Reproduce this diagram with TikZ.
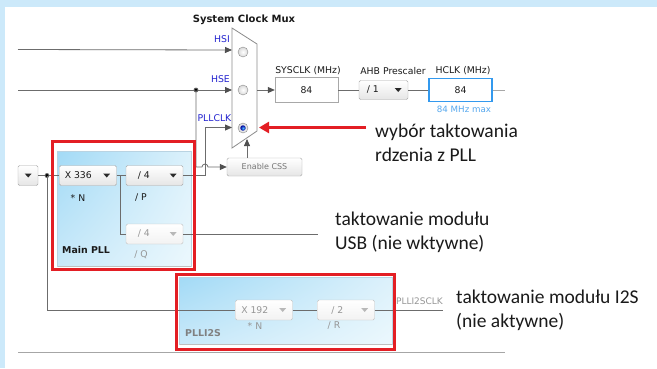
\documentclass[tikz,border=0pt]{standalone}
\usepackage{fontspec}
\setmainfont{DejaVu Sans}
\newfontfamily\notefont{Carlito}
\usetikzlibrary{arrows.meta,calc,shadings}

\definecolor{frameblue}{HTML}{CCE9FA}
\definecolor{wire}{HTML}{6C6C6C}
\definecolor{tipgray}{HTML}{505050}
\definecolor{uitext}{HTML}{1A1A1A}
\definecolor{dimtext}{HTML}{969696}
\definecolor{csstext}{HTML}{767676}
\definecolor{srcblue}{HTML}{2424D0}
\definecolor{hclkblue}{HTML}{3399EE}
\definecolor{maxblue}{HTML}{55A8EE}
\definecolor{markred}{HTML}{E31E24}
\definecolor{boxedge}{HTML}{A8A8A8}
\definecolor{muxedge}{HTML}{8C8C8C}
\definecolor{notetext}{HTML}{1A1A1A}
\definecolor{tri}{HTML}{2A2A2A}
\definecolor{tridim}{HTML}{B8B8B8}
\definecolor{pllA}{HTML}{A2DAF6}
\definecolor{pllB}{HTML}{DCF1FB}
\definecolor{pllC}{HTML}{C9E9F9}
\definecolor{pllD}{HTML}{ECF8FD}
\definecolor{panelEdge}{HTML}{B9D3E2}

\newcommand\uifont{\fontsize{9.3}{11}\selectfont}

% drop-down selector: [extra options]{name}{centre}{text}{text offset}{text colour}{arrow colour}
\newcommand\dropbox[7][]{%
  \node[dd,#1] (#2) at (#3) {};
  \node[font=\uifont, text=#6, inner sep=0pt] (#2-txt) at ($(#2.west)+(#5,0)$) {#4};
  \fill[#7] ($(#2.east)+(-13.5,-2)$) -- ++(7,0) -- ++(-3.5,4) -- cycle;
}

\tikzset{
  wire/.style={draw=wire, line width=0.8pt},
  feed/.style={wire, -{Triangle[length=7pt,width=6pt,color=tipgray]}},
  dd/.style={draw=boxedge, rounded corners=1.5pt, top color=white, bottom color=black!10,
             minimum width=57pt, minimum height=20pt, inner sep=0pt},
  dddim/.style={draw=boxedge!70, top color=white, bottom color=black!5},
  valbox/.style={draw=boxedge, fill=white, minimum width=63pt, minimum height=25pt,
                 inner sep=0pt, font=\uifont, text=uitext},
  uilabel/.style={font=\uifont, text=uitext, inner sep=0pt},
  dimlabel/.style={font=\uifont, text=dimtext, inner sep=0pt},
  srclabel/.style={font=\uifont, text=srcblue, inner sep=0pt, anchor=east},
  note/.style={font=\notefont\fontsize{19.5}{23}\selectfont, text=notetext, inner sep=0pt, anchor=base west},
  redframe/.style={draw=markred, line width=3pt},
  radio/.style={circle, draw=muxedge, inner sep=0pt, minimum size=10pt, inner color=white, outer color=black!15},
}

\begin{document}
\begin{tikzpicture}[x=1pt,y=-1pt]
\useasboundingbox (0,0) rectangle (657,368);
\fill[frameblue] (0,0) rectangle (657,368);
\fill[white] (5,7) rectangle (657,368);

% ---------- system clock multiplexer ----------
\node[font=\bfseries\fontsize{10}{11}\selectfont, text=uitext] (muxtitle) at (244,20) {System Clock Mux};
\draw[draw=muxedge, fill=white, line width=0.8pt] (232,28) -- (257,44) -- (257,131) -- (232,148) -- cycle;
\coordinate (mux-hsi) at (232,50);
\coordinate (mux-hse) at (232,90);
\coordinate (mux-pll) at (232,127.5);
\coordinate (mux-out) at (257,90);
\coordinate (mux-css) at (247,139);

\node[radio] (r-hsi) at (243,52) {};
\node[radio] (r-hse) at (243,90) {};
\node[radio] (r-pll) at (243,128) {};
\node[circle, inner sep=0pt, minimum size=5.5pt, inner color=cyan!60!blue!70, outer color=blue!60!black] (r-pll-dot) at (r-pll) {};

\node[srclabel] (l-hsi) at (230,39.5) {HSI};
\node[srclabel] (l-hse) at (230,79.5) {HSE};
\node[srclabel] (l-pll) at (231.5,118.5) {PLLCLK};

% clock source inputs
\coordinate (hsi-src) at (18,49.5);
\coordinate (hse-src) at (18,90);
\coordinate (hsedot) at (196,90);
\draw[feed] (hsi-src) -- (mux-hsi);
\draw[feed] (hse-src) -- (mux-hse);
\fill[wire] (hsedot) circle (2pt);

% clock security system
\node[dd, minimum width=75pt, minimum height=18pt, font=\fontsize{8}{9}\selectfont, text=csstext] (css) at (264.5,167) {Enable CSS};
\draw[feed] (hsedot) -- (196,167) -- (202,167) arc[start angle=180, end angle=360, radius=3] -- (css.west);
\draw[feed] (css.north -| mux-css) -- (mux-css);

% ---------- output chain ----------
\node[valbox] (sys) at (306.5,90) {84};
\dropbox[minimum width=49pt, minimum height=19pt]{ahb}{383.5,90}{/ 1}{14}{uitext}{tri}
\node[valbox, draw=hclkblue, line width=1.5pt, minimum height=23pt] (hclk) at (460.5,90) {84};
\coordinate (hclkout) at (505,90);

\node[uilabel] (sys-lbl) at (308,71) {SYSCLK (MHz)};
\node[uilabel] (ahb-lbl) at (393,71) {AHB Prescaler};
\node[uilabel] (hclk-lbl) at (463,71) {HCLK (MHz)};
\node[font=\fontsize{8.7}{10}\selectfont, text=maxblue, inner sep=0pt] (hclk-max) at (464,109.5) {84 MHz max};

\draw[feed] (mux-out) -- (sys.west);
\draw[wire] (sys.east) -- (ahb.west);
\draw[wire] (ahb.east) -- (hclk.west);
\draw[wire, draw=wire!60] (hclk.east) -- (hclkout);

% ---------- main PLL ----------
\shade[upper left=pllA, upper right=pllB, lower left=pllC, lower right=pllD] (57,151) rectangle (191,266);
\draw[draw=panelEdge, line width=0.6pt] (57,151) rectangle (191,266);
\draw[draw=black!25, line width=1pt] (57.5,266) -- (191,266);

\dropbox[minimum width=20pt]{pllsrc}{28,175.5}{}{10}{uitext}{tri}
\dropbox{plln}{88,175.5}{X 336}{19}{uitext}{tri}
\dropbox{pllp}{154.5,175.5}{/ 4}{18}{uitext}{tri}
\dropbox[dddim]{pllq}{154.5,234}{/ 4}{18}{dimtext}{tridim}

\node[uilabel] (pll-n) at (78,198) {* N};
\node[uilabel] (pll-p) at (141,198) {/ P};
\node[dimlabel] (pll-q) at (141,255) {/ Q};
\node[font=\bfseries\fontsize{9.4}{11}\selectfont, text=uitext, inner sep=0pt, anchor=west] (pll-name) at (62,250) {Main PLL};

\coordinate (srcdot) at (47,175.5);
\coordinate (qsplit) at (120,175.5);
\coordinate (qend) at (318,234);
\draw[wire] (pllsrc.east) -- (plln.west);
\draw[wire] (plln.east) -- (pllp.west);
\draw[wire] (qsplit) |- (pllq.west);
\draw[wire] (pllq.east) -- (qend);
\fill[wire] (srcdot) circle (2pt);
\draw[feed] (pllp.east) -- (205,175.5) -- (205,127.5) -- (mux-pll);

% ---------- PLLI2S ----------
\shade[upper left=pllA, upper right=pllB, lower left=pllC, lower right=pllD] (179,277) rectangle (392,344);
\draw[draw=panelEdge, line width=0.6pt] (179,277) rectangle (392,344);
\draw[draw=black!25, line width=1pt] (179.5,344) -- (392,344);

\dropbox[dddim]{i2sn}{264,310}{X 192}{19.5}{dimtext}{tridim}
\dropbox[dddim]{i2sr}{346,310}{/ 2}{20}{dimtext}{tridim}
\node[dimlabel] (i2s-n) at (255,326) {* N};
\node[dimlabel] (i2s-r) at (334,326) {/ R};
\node[font=\bfseries\fontsize{9.4}{11}\selectfont, text=dimtext!85!black, inner sep=0pt, anchor=west] (i2s-name) at (185,333) {PLLI2S};

\coordinate (i2send) at (443,310);
\draw[wire] (srcdot) |- (i2sn.west);
\draw[wire] (i2sn.east) -- (i2sr.west);
\draw[wire] (i2sr.east) -- (i2send);
\node[dimlabel, font=\fontsize{9}{10}\selectfont] (i2s-out) at (419.5,301) {PLLI2SCLK};

% bottom rule
\coordinate (rule-l) at (18,352);
\coordinate (rule-r) at (505,352);
\draw[draw=black!35, line width=0.8pt] (rule-l) -- (rule-r);

% ---------- highlights ----------
\draw[redframe] (52.5,141.5) rectangle (194.5,269.5);
\draw[redframe] (176.5,274.5) rectangle (394.5,349.5);

\coordinate (redtail) at (366,127.5);
\coordinate (redtip) at (259,127.5);
\draw[draw=markred, line width=2.6pt, -{Triangle[length=10pt,width=11pt]}] (redtail) -- (redtip);

\node[note] (note1a) at (375,137.5) {wybór taktowania};
\node[note] (note1b) at (375,161.5) {rdzenia z PLL};
\node[note] (note2a) at (335,225.5) {taktowanie modułu};
\node[note] (note2b) at (335,249) {USB (nie wktywne)};
\node[note] (note3a) at (456,303) {taktowanie modułu I2S};
\node[note] (note3b) at (456,327) {(nie aktywne)};
\end{tikzpicture}
\end{document}
